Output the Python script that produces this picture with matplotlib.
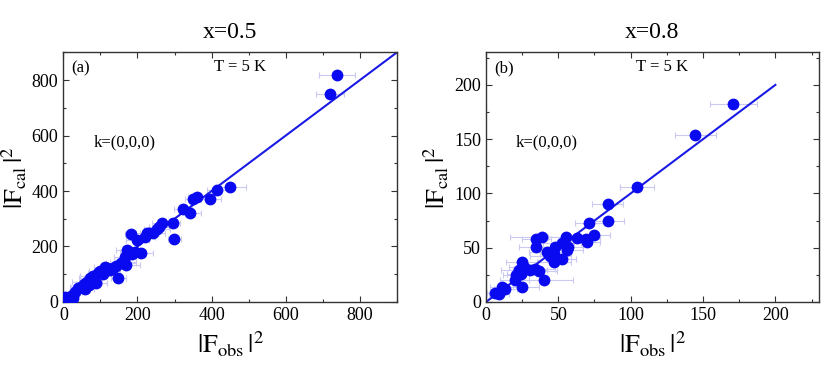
import matplotlib
matplotlib.use("Agg")
import matplotlib.pyplot as plt
from matplotlib.ticker import MultipleLocator

plt.rcParams['font.family'] = ['Liberation Serif', 'DejaVu Serif']
plt.rcParams['mathtext.fontset'] = 'stix'

# panel (a): x=0.5
a_obs = [5, 10, 15, 20, 25, 32, 40, 48, 55, 58, 63, 68, 72, 77, 81, 88, 94, 100,
         108, 112, 117, 125, 135, 142, 148, 155, 162, 166, 168, 172, 180, 185, 193,
         182, 200, 209, 220, 225, 232, 243, 252, 258, 265, 296, 299, 323, 341, 350,
         360, 395, 415, 450, 720, 738]
a_cal = [18, 12, 8, 22, 14, 37, 49, 55, 65, 48, 73, 60, 88, 79, 94, 70, 103, 110,
         100, 125, 121, 115, 121, 128, 85, 140, 145, 163, 135, 186, 181, 172, 181,
         244, 223, 178, 235, 250, 248, 247, 262, 272, 284, 284, 227, 336, 322, 372,
         378, 372, 402, 414, 750, 820]
a_err = [8, 10, 12, 10, 15, 18, 20, 30, 22, 25, 40, 28, 30, 25, 35, 30, 28, 32,
         25, 30, 35, 28, 30, 32, 20, 40, 35, 30, 38, 30, 28, 30, 25,
         15, 30, 32, 28, 30, 25, 30, 35, 28, 25, 20, 18, 25, 30, 22,
         25, 30, 28, 42, 38, 48]
a_fit = [0, 900]

# panel (b): x=0.8
b_obs = [6.5, 8.8, 11, 13.4, 20, 21, 22.6, 24.4, 24.9, 24.9, 26, 30.5, 33.6, 34.6,
         34.6, 36.9, 38.7, 39.9, 42, 44.5, 47, 47, 48, 52.5, 52.5, 55, 56, 57, 62.7,
         69, 69.5, 71.4, 74.9, 84, 84.3, 104.4, 144.7, 171]
b_cal = [8.3, 7, 13.8, 12.3, 20, 24.6, 29, 26, 37, 13.8, 32, 29, 30.8, 58,
         51, 28.6, 60, 20, 46, 42, 44.6, 37, 51, 54, 39.4, 59.4, 48, 50.8, 59,
         58, 55, 73, 62, 89.8, 74.5, 106, 154, 182]
b_err = [6, 7, 8, 8, 10, 9, 12, 10, 11, 12, 10, 12, 14, 10,
         12, 12, 22, 20, 12, 14, 10, 12, 11, 13, 10, 12, 11, 10, 9,
         10, 9, 10, 11, 11, 11, 11.5, 14, 16]
b_fit = [0, 200]

titles = ["x=0.5", "x=0.8"]
tags = ["(a)", "(b)"]

fig = plt.figure(figsize=(8.3, 3.66), dpi=100)
ax1 = fig.add_axes([0.0763, 0.175, 0.402, 0.682])
ax2 = fig.add_axes([0.5855, 0.175, 0.401, 0.682])

panels = [(ax1, a_obs, a_cal, a_err, a_fit, 900, 200, 100),
          (ax2, b_obs, b_cal, b_err, b_fit, 230, 50, 25)]

for i, (ax, xo, yc, xe, fit, lim, major, minor) in enumerate(panels):
    ax.errorbar(xo, yc, xerr=xe, fmt='none', ecolor='#c9c9f2', elinewidth=0.8,
                capsize=2, capthick=0.8, zorder=1)
    ax.plot(fit, fit, color='#1a1ae6', lw=1.5, zorder=2)
    ax.plot(xo, yc, 'o', color='#0a0af0', ms=8.5, mec='none', zorder=3)
    ax.set_xlim(0, lim)
    ax.set_ylim(0, lim)
    ax.xaxis.set_major_locator(MultipleLocator(major))
    ax.yaxis.set_major_locator(MultipleLocator(major))
    ax.xaxis.set_minor_locator(MultipleLocator(minor))
    ax.yaxis.set_minor_locator(MultipleLocator(minor))
    ax.tick_params(which='both', direction='in', top=True, right=True,
                   labelsize=13, width=0.8, color='#333333')
    ax.tick_params(which='major', length=4)
    ax.tick_params(which='minor', length=2.5)
    for s in ax.spines.values():
        s.set_color('#333333')
        s.set_linewidth(1.0)
    ax.set_title(titles[i], fontsize=17, pad=10)
    ax.set_xlabel(r'$|\mathrm{F}_{\mathrm{obs}}\,|^2$', fontsize=19, labelpad=4)
    ax.set_ylabel(r'$|\mathrm{F}_{\mathrm{cal}}\,|^2$', fontsize=19, labelpad=2)
    ax.text(0.025, 0.935, tags[i], transform=ax.transAxes, fontsize=12,
            va='center', ha='left')
    ax.text(0.53, 0.94, "T = 5 K", transform=ax.transAxes, fontsize=12,
            va='center', ha='center')
    ax.text(0.09, 0.64, "k=(0,0,0)", transform=ax.transAxes, fontsize=12,
            va='center', ha='left')

fig.savefig("out.png", dpi=100)
